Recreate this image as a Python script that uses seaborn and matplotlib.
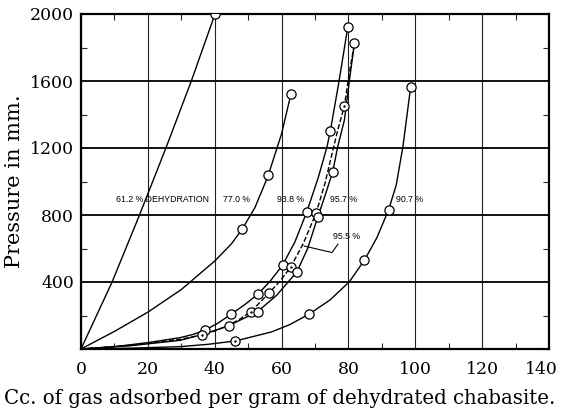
import matplotlib
matplotlib.use("Agg")
import matplotlib.pyplot as plt
import matplotlib.transforms as mtransforms
import seaborn as sns
from matplotlib.ticker import MultipleLocator

c612_x = [0, 9.3, 17.5, 25.4, 33.0, 40.1]
c612_y = [0, 400, 800, 1200, 1600, 2000]
c612_mx = [40.1]
c612_my = [2000]

c770_x = [0, 10, 20, 30, 40, 45, 48.2, 52, 55.9, 60, 62.8]
c770_y = [0, 105, 220, 355, 525, 628, 715, 843, 1030, 1285, 1522]
c770_mx = [48.2, 55.9, 62.8]
c770_my = [715, 1039, 1522]

c938_x = [0, 10, 20, 29.7, 33.5, 37.2, 41, 45, 49, 52.9, 56.6, 60.3, 64, 67.5, 71, 73.6, 74.6, 77.2, 79.8]
c938_y = [0, 14, 38, 68, 87, 113, 155, 209, 265, 327, 405, 501, 640, 816, 1025, 1208, 1303, 1600, 1921]
c938_mx = [37.2, 45, 52.9, 60.3, 67.5, 74.6, 79.8]
c938_my = [113, 209, 327, 501, 816, 1303, 1921]

c955_x = [0, 15, 29.7, 36.2, 40, 44, 47.5, 50.8, 56.2, 59.5, 62.8, 66.5, 70.3, 73, 75.6, 76.8, 78.8, 80.2, 81.8]
c955_y = [0, 22, 58, 84, 108, 140, 178, 223, 333, 405, 491, 630, 810, 990, 1208, 1307, 1451, 1640, 1825]
c955_mx = [36.2, 50.8, 56.2, 62.8, 70.3, 78.8]
c955_my = [84, 223, 333, 491, 810, 1451]

c957_x = [0, 15, 29.7, 37, 44.2, 52.8, 58.5, 64.6, 67.8, 70.8, 73, 75.3, 76.8, 78.8, 80.3, 81.8]
c957_y = [0, 20, 52, 90, 139, 223, 320, 461, 600, 786, 915, 1059, 1208, 1367, 1606, 1825]
c957_mx = [44.2, 52.8, 64.6, 70.8, 75.3, 81.8]
c957_my = [139, 223, 461, 786, 1059, 1825]

c907_x = [0, 15, 29.7, 38, 46.2, 57, 62.5, 68.3, 74.5, 80.3, 84.8, 88.5, 92, 94.3, 96.3, 98.6]
c907_y = [0, 5, 14, 28, 48, 102, 146, 209, 293, 402, 531, 664, 830, 979, 1208, 1562]
c907_mx = [46.2, 68.3, 84.8, 92, 98.6]
c907_my = [48, 209, 531, 830, 1562]

dot_x = [36.2, 50.8, 62.8, 78.8, 46.2]
dot_y = [84, 223, 491, 1451, 48]

x_ticks = [0, 20, 40, 60, 80, 100, 120, 140]
y_ticks = [400, 800, 1200, 1600, 2000]

sns.set_theme(style="white")
plt.rcParams['font.family'] = ['DejaVu Serif']

fig = plt.figure(figsize=(5.61, 4.09), dpi=100)
ax = fig.add_axes([81/561, 1-349/409, (549-81)/561, (349-14)/409])

lw = 1.0
for xs, ys, ls in [(c612_x, c612_y, '-'), (c770_x, c770_y, '-'), (c938_x, c938_y, '-'),
                   (c955_x, c955_y, '--'), (c957_x, c957_y, '-'), (c907_x, c907_y, '-')]:
    sns.lineplot(x=xs, y=ys, sort=False, estimator=None, ax=ax, color='black',
                 linewidth=lw, linestyle=ls, zorder=3)

mx = c612_mx + c770_mx + c938_mx + c955_mx + c957_mx + c907_mx
my = c612_my + c770_my + c938_my + c955_my + c957_my + c907_my
sns.scatterplot(x=mx, y=my, ax=ax, marker='o', s=44, facecolor='white',
                edgecolor='black', linewidth=0.9, zorder=4)
sns.scatterplot(x=dot_x, y=dot_y, ax=ax, marker='o', s=3, color='black',
                linewidth=0, zorder=5)

ax.set_xlim(0, 140)
ax.set_ylim(0, 2000)
ax.set_xticks(x_ticks)
ax.set_yticks(y_ticks)
ax.xaxis.set_minor_locator(MultipleLocator(10))
ax.yaxis.set_minor_locator(MultipleLocator(200))

ax.yaxis.grid(True, which='major', color='black', linewidth=1.3)
ax.xaxis.grid(True, which='major', color='#222222', linewidth=0.8)
ax.set_axisbelow(True)

for s in ax.spines.values():
    s.set_color('black')
    s.set_linewidth(1.6)

ax.tick_params(axis='both', which='major', direction='out', length=4, width=1,
               labelsize=12.4, pad=1, colors='black')
ax.tick_params(axis='both', which='minor', direction='in', length=4, width=0.8,
               top=True, right=True, bottom=True, left=True)
ax.tick_params(axis='x', which='major', pad=5)

# keep the last x tick label inside the figure, as in the reference
fig.canvas.draw()
xlabels = ax.get_xticklabels()
shift = mtransforms.ScaledTranslation(-8/100, 0, fig.dpi_scale_trans)
xlabels[-1].set_transform(xlabels[-1].get_transform() + shift)

ax.set_xlabel('Cc. of gas adsorbed per gram of dehydrated chabasite.',
              fontsize=14.2, color='black')
ax.xaxis.set_label_coords((280 - 81) / 468, -50 / 335)
ax.xaxis.label.set_va('center')
ax.set_ylabel('Pressure in mm.', fontsize=15, color='black', labelpad=4)

tkw = dict(fontsize=6.3, family='Liberation Sans', color='black', va='center', ha='left',
           zorder=6)
ax.text(10.5, 890, '61.2 % DEHYDRATION', **tkw)
ax.text(42.4, 890, '77.0 %', **tkw)
ax.text(58.6, 890, '93.8 %', **tkw)
ax.text(74.5, 890, '95.7 %', **tkw)
ax.text(94.3, 890, '90.7 %', **tkw)
ax.text(75.3, 670, '95.5 %', **tkw)
ax.plot([66.7, 75.1, 76.9], [615, 576, 627], color='black', linewidth=0.8, zorder=6)

fig.savefig('out.png', dpi=100)
